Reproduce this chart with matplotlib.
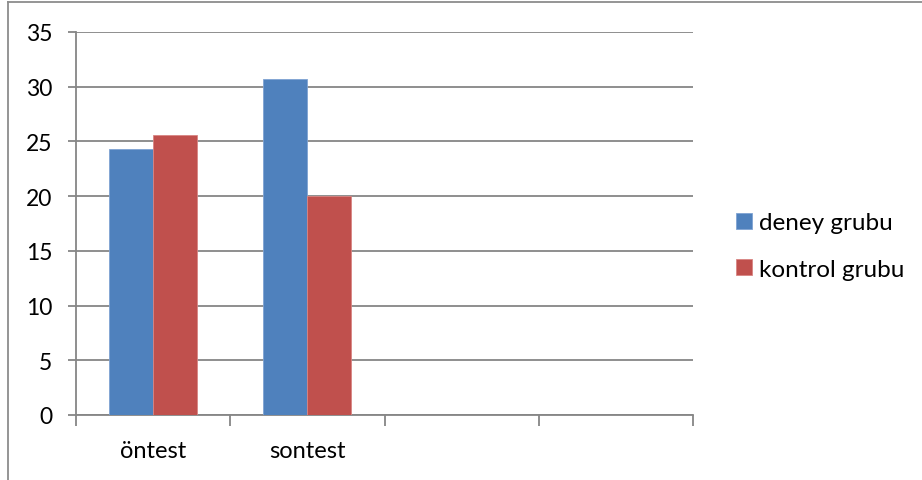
import matplotlib
matplotlib.use("Agg")
import matplotlib.pyplot as plt
import numpy as np
from matplotlib.lines import Line2D

plt.rcParams['font.family'] = ['Lato', 'DejaVu Sans']

categories = ["öntest", "sontest", "", ""]
deney = [24.3, 30.7, None, None]
kontrol = [25.6, 20.0, None, None]
series_names = ["deney grubu", "kontrol grubu"]
y_ticks = [0, 5, 10, 15, 20, 25, 30, 35]

blue = "#4F81BD"
red = "#C0504D"
grid_gray = "#868686"

fig = plt.figure(figsize=(9.22, 4.81), dpi=100)
ax = fig.add_axes([76 / 922, 65 / 481, (693 - 76) / 922, (416 - 33) / 481])

x = np.arange(len(categories))
w = 0.285
dx = [xi for xi, v in zip(x, deney) if v is not None]
dv = [v for v in deney if v is not None]
kx = [xi for xi, v in zip(x, kontrol) if v is not None]
kv = [v for v in kontrol if v is not None]
ax.bar(np.array(dx) - w / 2, dv, width=w, color=blue, edgecolor="#7FA3D3",
       linewidth=0.6, label=series_names[0], zorder=3)
ax.bar(np.array(kx) + w / 2, kv, width=w, color=red, edgecolor="#D88583",
       linewidth=0.6, label=series_names[1], zorder=3)

ax.set_xlim(-0.5, len(categories) - 0.5)
ax.set_ylim(0, 35)
ax.set_yticks(y_ticks)
ax.set_yticklabels([str(t) for t in y_ticks], fontsize=16.5)
ax.yaxis.grid(True, color=grid_gray, linewidth=1.3, zorder=0)
ax.set_axisbelow(True)

ax.set_xticks(x)
ax.set_xticklabels(categories, fontsize=17)
ax.set_xticks(np.arange(len(categories) + 1) - 0.5, minor=True)
ax.tick_params(axis="x", which="major", length=0, pad=18)
ax.tick_params(axis="x", which="minor", length=8, color=grid_gray, width=1.3)
ax.tick_params(axis="y", length=6, color=grid_gray, width=1.3, pad=11)

for s in ["top", "right"]:
    ax.spines[s].set_visible(False)
for s in ["left", "bottom"]:
    ax.spines[s].set_color(grid_gray)
    ax.spines[s].set_linewidth(1.3)

leg = fig.legend(loc="center left", bbox_to_anchor=(714 / 922, 234 / 481),
                 frameon=False, fontsize=17.5, handlelength=0.65,
                 handleheight=0.65, handletextpad=0.3, labelspacing=1.05)

# outer chart frame (top and left edges)
fig.add_artist(Line2D([8 / 922, 1.0], [1 - 3 / 481, 1 - 3 / 481],
                      transform=fig.transFigure, color="#8C8C8C", linewidth=1.3))
fig.add_artist(Line2D([8 / 922, 8 / 922], [0, 1 - 3 / 481],
                      transform=fig.transFigure, color="#8C8C8C", linewidth=1.3))

fig.savefig("out.png", dpi=100)
